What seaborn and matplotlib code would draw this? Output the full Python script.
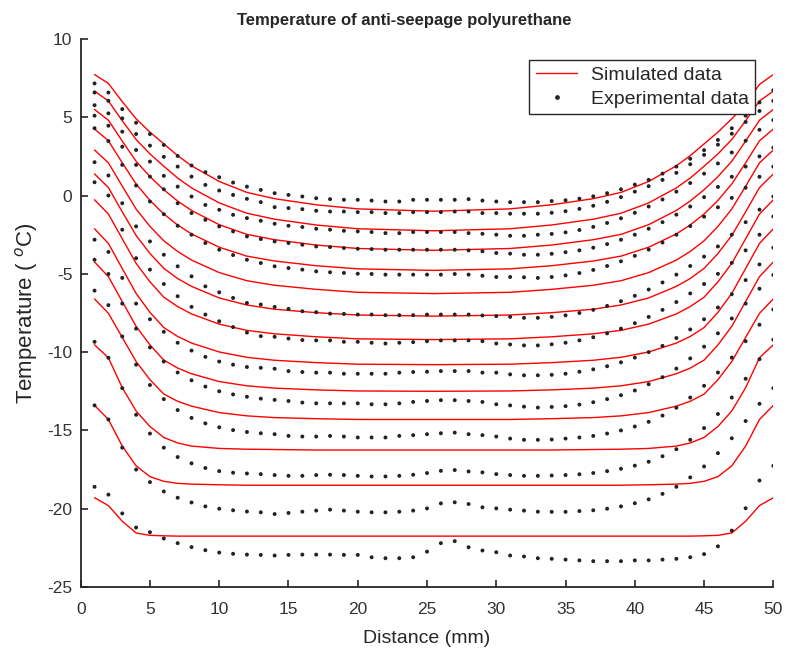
import numpy as np
import pandas as pd
import matplotlib
matplotlib.use("Agg")
import matplotlib.pyplot as plt
from matplotlib.lines import Line2D
from matplotlib import font_manager
import seaborn as sns

# ---------------- data ----------------
SIM_X = [1, 2, 3, 4, 5, 6, 7, 8, 10, 12, 14, 17, 20, 25.5, 31, 34, 37, 39, 41, 43, 44, 45, 46, 47, 48, 49, 50]

sim1 = [7.73, 7.16, 6.00, 4.90, 4.05, 3.30, 2.55, 1.90, 0.90, 0.20, -0.20, -0.59, -0.85, -1.0,
        -0.85, -0.59, -0.20, 0.20, 0.90, 1.90, 2.55, 3.30, 4.05, 4.90, 5.85, 7.10, 7.73]
sim2 = [6.67, 6.04, 4.78, 3.58, 2.66, 1.87, 1.12, 0.49, -0.47, -1.13, -1.51, -1.88, -2.12, -2.25,
        -2.12, -1.88, -1.51, -1.13, -0.47, 0.49, 1.12, 1.87, 2.66, 3.58, 4.78, 6.04, 6.67]
sim3 = [5.50, 4.81, 3.48, 2.19, 1.21, 0.37, -0.35, -0.95, -1.86, -2.48, -2.82, -3.16, -3.38, -3.5,
        -3.38, -3.16, -2.82, -2.48, -1.86, -0.95, -0.35, 0.37, 1.21, 2.19, 3.48, 4.81, 5.50]
sim4 = [4.25, 3.50, 2.09, 0.74, -0.31, -1.18, -1.88, -2.45, -3.30, -3.87, -4.18, -4.48, -4.68, -4.78,
        -4.68, -4.48, -4.18, -3.87, -3.30, -2.45, -1.88, -1.18, -0.31, 0.74, 2.09, 3.50, 4.25]
sim5 = [2.91, 2.09, 0.60, -0.86, -1.97, -2.89, -3.57, -4.12, -4.92, -5.44, -5.73, -5.99, -6.18, -6.26,
        -6.18, -5.99, -5.73, -5.44, -4.92, -4.12, -3.57, -2.89, -1.97, -0.86, 0.60, 2.09, 2.91]
sim6 = [1.38, 0.51, -1.04, -2.55, -3.70, -4.65, -5.30, -5.80, -6.54, -6.99, -7.26, -7.48, -7.63, -7.7,
        -7.63, -7.48, -7.26, -6.99, -6.54, -5.80, -5.30, -4.65, -3.70, -2.55, -1.04, 0.51, 1.38]
sim7 = [-0.27, -1.18, -2.76, -4.33, -5.51, -6.49, -7.09, -7.56, -8.21, -8.61, -8.83, -9.02, -9.15, -9.2,
        -9.15, -9.02, -8.83, -8.61, -8.21, -7.56, -7.09, -6.49, -5.51, -4.33, -2.76, -1.18, -0.27]
sim8 = [-2.12, -3.06, -4.66, -6.25, -7.46, -8.43, -9.00, -9.42, -9.99, -10.33, -10.52, -10.67, -10.77, -10.8,
        -10.77, -10.67, -10.52, -10.33, -9.99, -9.42, -9.00, -8.43, -7.46, -6.25, -4.66, -3.06, -2.12]
sim9 = [-4.24, -5.18, -6.77, -8.35, -9.54, -10.51, -11.02, -11.38, -11.88, -12.15, -12.30, -12.41, -12.48, -12.5,
        -12.48, -12.41, -12.30, -12.15, -11.88, -11.38, -11.02, -10.51, -9.54, -8.35, -6.77, -5.18, -4.24]
sim10 = [-6.6, -7.52, -9.06, -10.60, -11.76, -12.68, -13.14, -13.45, -13.86, -14.07, -14.18, -14.25, -14.3, -14.3,
         -14.3, -14.25, -14.18, -14.07, -13.86, -13.45, -13.14, -12.68, -11.76, -10.60, -9.06, -7.52, -6.6]
sim11 = [-9.53, -10.36, -12.27, -13.76, -14.75, -15.45, -15.8, -16.0, -16.15, -16.2, -16.22, -16.25, -16.25, -16.25,
         -16.25, -16.25, -16.22, -16.2, -16.15, -16.0, -15.8, -15.45, -14.75, -13.76, -12.27, -10.36, -9.53]
sim12 = [-13.4, -14.3, -16.0, -17.26, -17.95, -18.25, -18.38, -18.43, -18.47, -18.5, -18.5, -18.5, -18.5, -18.5,
         -18.5, -18.5, -18.5, -18.5, -18.47, -18.43, -18.38, -18.25, -17.95, -17.26, -16.0, -14.3, -13.4]
sim13 = [-19.3, -19.8, -20.8, -21.55, -21.7, -21.73, -21.75, -21.75, -21.75, -21.75, -21.75, -21.75, -21.75, -21.75,
         -21.75, -21.75, -21.75, -21.75, -21.75, -21.75, -21.75, -21.73, -21.7, -21.55, -20.8, -19.8, -19.3]

EXP_X = list(range(1, 51))

expA = [7.16, 6.58, 5.52, 4.65, 3.93, 3.23, 2.53, 1.92, 1.49, 1.17, 0.83, 0.57, 0.36,
        0.15, 0.04, -0.06, -0.17, -0.23, -0.27, -0.27, -0.32, -0.38, -0.38, -0.27, -0.27, -0.27, -0.27, -0.23, -0.32, -0.38, -0.42, -0.42, -0.42,
        -0.35, -0.3, -0.2, -0.05, 0.15, 0.4, 0.7, 1.0, 1.4, 1.85, 2.35, 2.9, 3.55, 4.3, 5.1, 5.95, 6.73]
expB = [6.58, 6.05, 4.93, 3.93, 3.19, 2.47, 1.85, 1.21, 0.68, 0.32, 0.04, -0.21,
        -0.42, -0.74, -0.8, -0.87, -0.97, -1.02, -1.02, -1.06, -1.06, -1.12, -1.12, -1.06, -1.06, -1.06, -1.02, -1.02, -1.12, -1.12, -1.16, -1.16, -1.16,
        -1.1, -1.0, -0.85, -0.65, -0.4, -0.1, 0.25, 0.6, 1.0, 1.45, 2.0, 2.6, 3.25, 3.95, 4.7, 5.4, 6.05]
expC = [5.77, 5.25, 4.08, 2.91, 2.17, 1.26, 0.57, -0.06, -0.6, -0.91, -1.23, -1.44,
        -1.61, -1.8, -1.93, -2.01, -2.12, -2.18, -2.25, -2.29, -2.33, -2.4, -2.4, -2.33, -2.33, -2.33, -2.33, -2.4, -2.44, -2.5, -2.57, -2.57, -2.5,
        -2.45, -2.35, -2.2, -2.0, -1.75, -1.45, -1.1, -0.7, -0.25, 0.25, 0.8, 1.4, 2.05, 2.75, 3.5, 4.2, 4.82]
expD = [5.1, 4.46, 3.12, 1.96, 1.21, 0.4, -0.49, -1.12, -1.55, -1.97, -2.29, -2.61,
        -2.78, -2.93, -3.03, -3.14, -3.25, -3.29, -3.35, -3.4, -3.42, -3.46, -3.46, -3.46, -3.46, -3.46, -3.46, -3.5, -3.56, -3.67, -3.71, -3.78, -3.78,
        -3.72, -3.62, -3.5, -3.33, -3.1, -2.82, -2.5, -2.12, -1.7, -1.22, -0.7, -0.1, 0.55, 1.2, 1.85, 2.5, 3.06]
expE = [4.3, 3.48, 1.96, 0.64, -0.38, -1.19, -1.93, -2.5, -3.03, -3.46, -3.8, -4.1,
        -4.31, -4.52, -4.63, -4.73, -4.84, -4.9, -4.94, -4.99, -5.01, -5.05, -5.05, -5.05, -5.05, -5.05, -5.01, -5.05, -5.12, -5.2, -5.2, -5.22, -5.26,
        -5.2, -5.1, -4.95, -4.75, -4.5, -4.2, -3.85, -3.45, -3.0, -2.5, -1.95, -1.35, -0.75, -0.15, 0.5, 1.2, 1.85]
expF = [2.13, 1.28, -0.49, -1.97, -2.93, -3.78, -4.52, -5.16, -5.8, -6.18, -6.54, -6.86,
        -6.96, -7.11, -7.24, -7.39, -7.45, -7.54, -7.56, -7.6, -7.6, -7.64, -7.64, -7.64, -7.6, -7.6, -7.6, -7.6, -7.66, -7.7, -7.75, -7.81, -7.81,
        -7.75, -7.65, -7.5, -7.3, -7.05, -6.75, -6.4, -6.0, -5.55, -5.05, -4.5, -3.9, -3.25, -2.5, -1.7, -0.9, -0.06]
expG = [0.85, 0.0, -2.18, -4.0, -4.73, -5.65, -6.43, -7.11, -7.6, -8.03, -8.4, -8.75,
        -8.98, -9.02, -9.13, -9.23, -9.25, -9.25, -9.34, -9.34, -9.4, -9.45, -9.4, -9.36, -9.3, -9.25, -9.25, -9.25, -9.3, -9.45, -9.51, -9.57, -9.57,
        -9.5, -9.4, -9.25, -9.05, -8.8, -8.5, -8.15, -7.75, -7.3, -6.8, -6.25, -5.65, -5.0, -4.3, -3.5, -2.5, -1.34]
expH = [-2.82, -3.6, -5.26, -6.9, -7.9, -8.7, -9.4, -9.9, -10.3, -10.6, -10.8, -10.95,
        -11.0, -11.06, -11.21, -11.27, -11.31, -11.31, -11.38, -11.38, -11.38, -11.38, -11.31, -11.27, -11.25, -11.21, -11.21, -11.21, -11.31, -11.31, -11.42, -11.48, -11.48,
        -11.45, -11.38, -11.25, -11.1, -10.9, -10.65, -10.35, -10.0, -9.6, -9.1, -8.55, -7.9, -7.15, -6.3, -5.4, -4.4, -3.33]
expI = [-4.1, -5.01, -6.9, -8.5, -9.7, -10.6, -11.3, -11.8, -12.2, -12.5, -12.7, -12.85,
        -12.97, -13.05, -13.12, -13.22, -13.27, -13.27, -13.27, -13.27, -13.33, -13.33, -13.27, -13.18, -13.12, -13.07, -13.07, -13.12, -13.18, -13.33, -13.4, -13.48, -13.54,
        -13.5, -13.45, -13.35, -13.2, -13.0, -12.75, -12.45, -12.05, -11.6, -11.05, -10.4, -9.65, -8.8, -7.85, -6.9, -5.95, -5.07]
expJ = [-6.07, -7.0, -9.0, -10.8, -12.1, -13.0, -13.7, -14.2, -14.55, -14.8, -14.98, -15.1,
        -15.18, -15.24, -15.35, -15.39, -15.39, -15.35, -15.39, -15.45, -15.45, -15.45, -15.35, -15.3, -15.24, -15.18, -15.14, -15.24, -15.3, -15.39, -15.52, -15.6, -15.6,
        -15.58, -15.52, -15.45, -15.35, -15.2, -15.0, -14.75, -14.45, -14.05, -13.55, -12.9, -12.15, -11.3, -10.35, -9.3, -8.25, -7.28]
expK = [-9.34, -10.36, -12.3, -14.0, -15.2, -16.1, -16.7, -17.1, -17.4, -17.6, -17.7, -17.75,
        -17.79, -17.85, -17.9, -17.9, -17.85, -17.83, -17.85, -17.9, -17.94, -17.94, -17.9, -17.83, -17.72, -17.58, -17.53, -17.62, -17.68, -17.79, -17.85, -17.9, -17.9,
        -17.88, -17.85, -17.8, -17.72, -17.6, -17.45, -17.25, -17.0, -16.65, -16.2, -15.6, -14.85, -13.95, -12.9, -11.7, -10.45, -9.2]
expL = [-13.4, -14.3, -16.1, -17.5, -18.3, -18.9, -19.3, -19.6, -19.85, -20.0, -20.1, -20.18,
        -20.23, -20.34, -20.27, -20.19, -20.12, -20.06, -20.12, -20.19, -20.23, -20.23, -20.19, -20.12, -19.98, -19.66, -19.59, -19.7, -19.91, -19.98, -20.06, -20.12, -20.19,
        -20.2, -20.2, -20.15, -20.1, -20.0, -19.85, -19.65, -19.4, -19.05, -18.6, -18.0, -17.3, -16.45, -15.5, -14.4, -13.3, -12.3]
expM = [-18.6, -19.1, -20.3, -21.2, -21.5, -21.9, -22.2, -22.45, -22.65, -22.8, -22.88, -22.93,
        -22.95, -22.99, -22.95, -22.93, -22.93, -22.93, -22.95, -22.95, -23.1, -23.16, -23.16, -23.1, -22.74, -22.2, -22.07, -22.46, -22.67, -22.78, -22.99, -23.05, -23.16,
        -23.2, -23.25, -23.3, -23.35, -23.35, -23.35, -23.3, -23.3, -23.25, -23.2, -23.1, -22.9, -22.4, -21.4, -19.97, -18.2, -17.26]

SIM_SERIES = [sim1, sim2, sim3, sim4, sim5, sim6, sim7, sim8, sim9, sim10, sim11, sim12, sim13]
EXP_SERIES = [expA, expB, expC, expD, expE, expF, expG, expH, expI, expJ, expK, expL, expM]

TITLE = "Temperature of anti-seepage polyurethane"
XLABEL = "Distance (mm)"
YLABEL = "Temperature ( $^{o}$C)"
LEGEND_LABELS = ["Simulated data", "Experimental data"]
XTICKS = [0, 5, 10, 15, 20, 25, 30, 35, 40, 45, 50]
YTICKS = [-25, -20, -15, -10, -5, 0, 5, 10]

# ---------------- frames ----------------
sim_df = pd.concat(
    [pd.DataFrame({"Distance": SIM_X, "Temp": s, "curve": i}) for i, s in enumerate(SIM_SERIES)],
    ignore_index=True)
exp_df = pd.concat(
    [pd.DataFrame({"Distance": EXP_X, "Temp": s, "series": i}) for i, s in enumerate(EXP_SERIES)],
    ignore_index=True)

# ---------------- style ----------------
sns.set_theme(style="ticks")
available = {f.name for f in font_manager.fontManager.ttflist}
base_font = "Liberation Sans" if "Liberation Sans" in available else "DejaVu Sans"
plt.rcParams["font.family"] = [base_font]
plt.rcParams.update({
    "axes.unicode_minus": False,
    "xtick.direction": "in",
    "ytick.direction": "in",
    "xtick.major.size": 5,
    "ytick.major.size": 5,
    "xtick.major.width": 1.2,
    "ytick.major.width": 1.2,
    "axes.linewidth": 1.3,
    "axes.edgecolor": "#262626",
    "xtick.color": "#262626",
    "ytick.color": "#262626",
    "xtick.labelcolor": "#333333",
    "ytick.labelcolor": "#333333",
})

fig = plt.figure(figsize=(7.88, 6.55), dpi=100)
ax = fig.add_axes([0.1024, 0.1038, 0.8790, 0.8367])

sns.lineplot(data=sim_df, x="Distance", y="Temp", units="curve", estimator=None,
             color="#ff0000", linewidth=1.0, sort=False, ax=ax, legend=False)
sns.scatterplot(data=exp_df, x="Distance", y="Temp", color="#222222", s=8,
                marker="o", edgecolor="none", linewidth=0, ax=ax, legend=False, zorder=3)

ax.set_xlim(0, 50)
ax.set_ylim(-25, 10)
ax.set_xticks(XTICKS)
ax.set_yticks(YTICKS)
ax.tick_params(axis="both", labelsize=12.5)
ax.tick_params(axis="x", pad=11)
ax.tick_params(axis="y", pad=6)
sns.despine(ax=ax)

ax.set_title(TITLE, fontsize=12, fontweight="bold", pad=10, x=0.467)
ax.set_xlabel(XLABEL, fontsize=14, labelpad=9)
ax.set_ylabel(YLABEL, fontsize=16, labelpad=5)

handles = [Line2D([0], [0], color="#ff0000", lw=1.0),
           Line2D([0], [0], color="#222222", marker="o", markersize=2.4, lw=0)]
leg = ax.legend(handles, LEGEND_LABELS, loc="upper right", bbox_to_anchor=(0.974, 0.962),
                frameon=True, fancybox=False, edgecolor="#262626", framealpha=1,
                fontsize=14, borderaxespad=0, handlelength=2.1, handletextpad=0.7,
                borderpad=0.35, labelspacing=0.3)
leg.get_frame().set_linewidth(1.0)

fig.savefig("out.png", dpi=100)
